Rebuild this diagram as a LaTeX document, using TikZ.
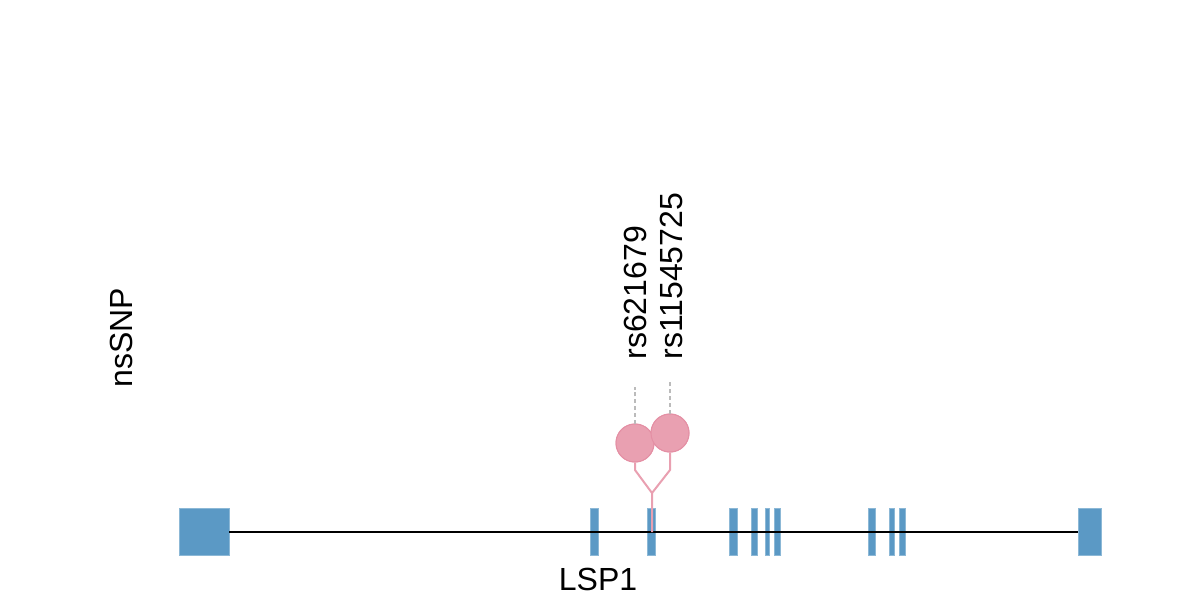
\documentclass[tikz,border=0pt]{standalone}
\usepackage{fontspec}
\setmainfont{Liberation Sans}
\usetikzlibrary{positioning}
\definecolor{exonBlue}{HTML}{5B99C5}
\definecolor{snpPink}{HTML}{E9A0B1}
\definecolor{snpEdge}{HTML}{E48FA4}
\definecolor{tickGray}{HTML}{BBBBBB}

\begin{document}
\begin{tikzpicture}[
    x=0.5pt, y=-0.5pt,
    exon/.style={rectangle, fill=exonBlue, draw=exonBlue!70!white, line width=0.3pt,
                 minimum height=23.5pt, inner sep=0pt},
    snp/.style={circle, fill=snpPink, draw=snpEdge, line width=0.5pt,
                minimum size=19pt, inner sep=0pt},
    stem/.style={draw=snpPink, line width=1pt},
    tick/.style={draw=tickGray, line width=1pt, dash pattern=on 2pt off 1.4pt},
    lab/.style={font=\fontsize{16}{19}\selectfont, inner sep=0pt},
  ]
    \useasboundingbox (0,0) rectangle (1200,600);

    % exons
    \foreach \cx/\w [count=\i] in {204/50, 594/8, 651/8, 733/8, 754/6, 767/4,
                                   777/6, 871.5/7, 891.5/5, 902/6, 1089.5/23}{
      \node[exon, minimum width=\w*0.5pt] (e\i) at (\cx,532) {};
    }
    \draw[line width=1pt] (e1.east) -- (e11.west);

    % lollipops
    \node[snp] (s1) at (635,443) {};
    \node[snp] (s2) at (670,433) {};
    \coordinate (root) at (652,532);
    \coordinate (fork) at (652,493);
    \coordinate (k1) at (635,470);
    \coordinate (k2) at (670,470);
    \coordinate (t1) at (635,387);
    \coordinate (t2) at (670,381);
    \draw[stem] (root) -- (fork) -- (k1) -- (s1.south);
    \draw[stem] (fork) -- (k2) -- (s2.south);
    \node[snp] at (s1) {};
    \node[snp] at (s2) {};
    \draw[tick] (s1.north) -- (t1);
    \draw[tick] (s2.north) -- (t2);

    % labels
    \node[lab, rotate=90, anchor=base west] (l1) at (646,360) {rs621679};
    \node[lab, rotate=90, anchor=base west] (l2) at (682,360) {rs11545725};
    \node[lab, rotate=90, anchor=base west] (snplab) at (132,388) {nsSNP};
    \node[lab, anchor=base] (genelab) at (598,590) {LSP1};
  \end{tikzpicture}
\end{document}
